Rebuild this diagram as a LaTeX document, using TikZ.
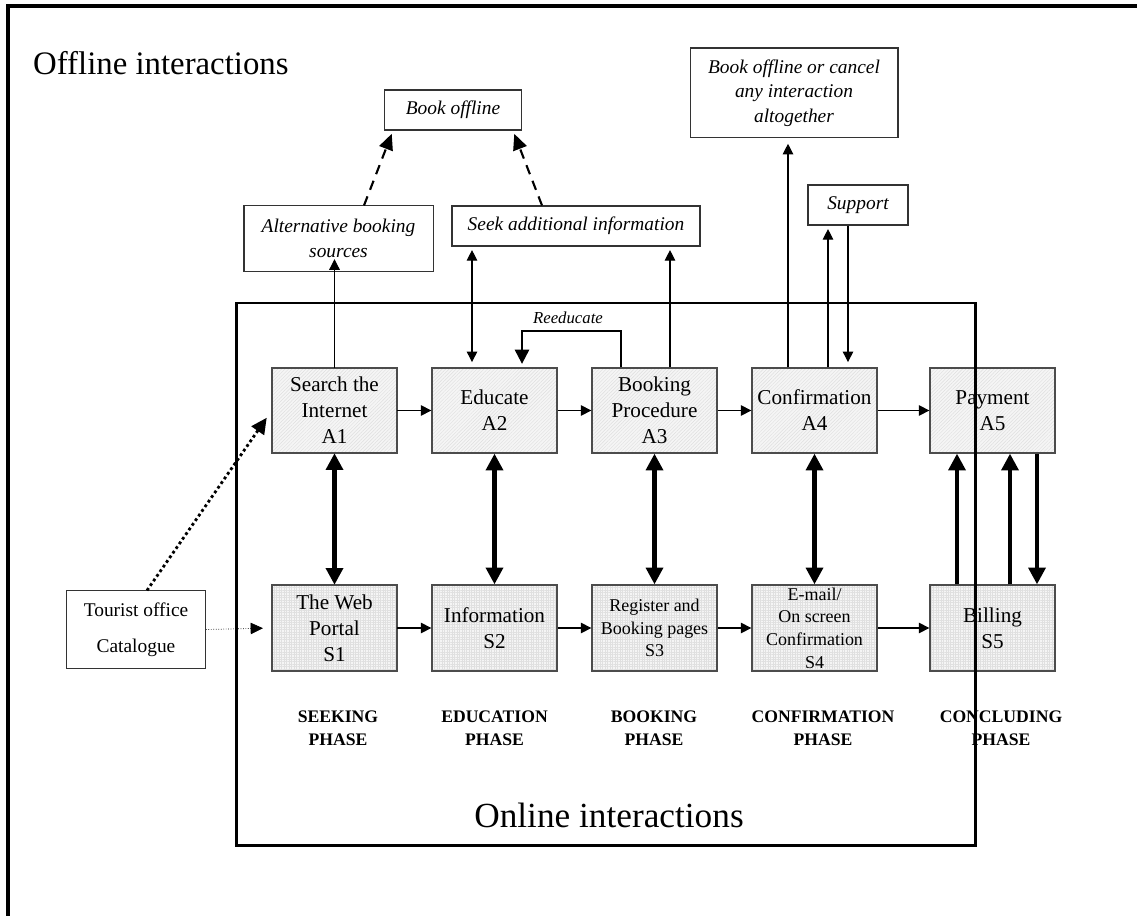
\documentclass[tikz,border=0pt]{standalone}
\usepackage{fontspec}
\setmainfont{Liberation Serif}
\usetikzlibrary{arrows.meta,patterns.meta}

\begin{document}
\begin{tikzpicture}
[x=0.567pt,y=-0.567pt]
\tikzset{
	act/.style = {draw=black!70, line width=0.7pt, minimum width=70.9pt, minimum height=48.2pt, inner sep=1pt, align=center,
		font=\fontsize{12}{14.7}\selectfont, preaction={fill=black!4},
		pattern={Lines[angle=45,distance=1.4pt,line width=0.25pt]}, pattern color=black!13},
	sys/.style = {act, minimum height=48.8pt, pattern={Hatch[distance=1.4pt,line width=0.2pt]}, pattern color=black!12},
	offl/.style = {draw=black!80, line width=0.6pt, inner sep=0pt, align=center, font=\itshape\fontsize{11}{14}\selectfont},
	phase/.style = {align=center, font=\bfseries\fontsize{10}{13}\selectfont},
	title/.style = {font=\fontsize{20}{24}\selectfont},
	link/.style = {line width=0.6pt, >={Triangle[length=6pt,width=6pt]}},
	bold/.style = {line width=2.3pt, >={Triangle[length=9.5pt,width=9.5pt]}},
	offlink/.style = {line width=1.2pt, dash pattern=on 5.5pt off 4pt, >={Triangle[length=9pt,width=8pt]}},
	hint/.style = {line width=1.6pt, dash pattern=on 1.6pt off 1.6pt, >={Triangle[length=9pt,width=8.5pt]}},
	faint/.style = {line width=0.4pt, densely dotted, >={Triangle[length=7pt,width=6.5pt]}}
}
\useasboundingbox (0,0) rectangle (1137,916);

% frame of the offline world
\draw[line width=2.3pt] (8,916) -- (8,6.3) -- (1137,6.3);
\node (offline) [title, font=\fontsize{18.6}{22}\selectfont, anchor=base west] at (27,75) {Offline interactions};

% activities
\node (a1) [act] at (334.5,410.5) {Search the\\Internet\\A1};
\node (a2) [act] at (494.5,410.5) {Educate\\A2};
\node (a3) [act] at (654.5,410.5) {Booking\\Procedure\\A3};
\node (a4) [act] at (814.5,410.5) {Confirmation\\A4};
\node (a5) [act] at (992.5,410.5) {Payment\\A5};

% web site
\node (s1) [sys] at (334.5,628) {The Web\\Portal\\S1};
\node (s2) [sys] at (494.5,628) {Information\\S2};
\node (s3) [sys, font=\fontsize{10.2}{12.8}\selectfont] at (654.5,628) {Register and\\Booking pages\\S3};
\node (s4) [sys, font=\fontsize{10.2}{12.8}\selectfont] at (814.5,628) {E-mail/\\On screen\\Confirmation\\S4};
\node (s5) [sys] at (992.5,628) {Billing\\S5};

% offline boxes
\node (bookoff) [offl, minimum width=78.2pt, minimum height=22.7pt] at (453,110) {Book offline};
\node (alt) [offl, minimum width=107.2pt, minimum height=36.9pt] at (338.5,238.5) {Alternative booking\\sources};
\node (seek) [offl, minimum width=140.6pt, minimum height=22.7pt] at (576,226) {Seek additional information};
\node (cancel) [offl, minimum width=117.9pt, minimum height=51pt] at (794,93) {Book offline or cancel\\any interaction\\altogether};
\node (support) [offl, minimum width=56.7pt, minimum height=22.7pt] at (858,205) {Support};
\node (tourist) [offl, font=\fontsize{11}{20.4}\selectfont, minimum width=78.8pt, minimum height=43.7pt] at (136,629.5) {Tourist office\\Catalogue};

\node (ph1) [phase] at (338,728.5) {SEEKING\\PHASE};
\node (ph2) [phase] at (494.5,728.5) {EDUCATION\\PHASE};
\node (ph3) [phase] at (654,728.5) {BOOKING\\PHASE};
\node (ph4) [phase] at (823,728.5) {CONFIRMATION\\PHASE};
\node (ph5) [phase] at (1001,728.5) {CONCLUDING\\PHASE};

\node (online) [title, anchor=base] at (609,827) {Online interactions};

\path[link,->]
	(a1) edge (a2)
	(a2) edge (a3)
	(a3) edge (a4)
	(a4) edge (a5)
	(s1) edge (s2)
	(s2) edge (s3)
	(s3) edge (s4)
	(s4) edge (s5)
	;

\path[bold,<->]
	(a1) edge (s1)
	(a2) edge (s2)
	(a3) edge (s3)
	(a4) edge (s4)
	;
\draw[bold,->] (957,0 |- s5.north) -- (957,0 |- a5.south);
\draw[bold,->] (1010,0 |- s5.north) -- (1010,0 |- a5.south);
\draw[bold,->] (1037,0 |- a5.south) -- (1037,0 |- s5.north);

% up to the offline side
\draw[link,->,shorten >=-7pt] (a1.north) -- (a1.north |- alt.south);
\draw[link,<->,shorten >=2pt,shorten <=3pt] (472,0 |- a2.north) -- (472,0 |- seek.south);
\draw[link,->,shorten >=2pt] (670,0 |- a3.north) -- (670,0 |- seek.south);
\draw[link,->,shorten >=3pt] (788,0 |- a4.north) -- (788,0 |- cancel.south);
\draw[link,->,shorten >=2pt] (828,0 |- a4.north) -- (828,0 |- support.south);
\draw[link,->,shorten >=3pt] (848,0 |- support.south) -- (848,0 |- a4.north);
\draw[line width=1.2pt, >={Triangle[length=8pt,width=8pt]}, ->, shorten >=2pt] (621,0 |- a3.north) -- ++(0,-36) -| (522,0 |- a2.north);
\node (reedu) [font=\itshape\fontsize{9.5}{11}\selectfont] at (568,318) {Reeducate};

\draw[offlink,->,shorten >=2pt] (364,0 |- alt.north) -- (393,0 |- bookoff.south);
\draw[offlink,->,shorten >=2pt] (542,0 |- seek.north) -- (513,0 |- bookoff.south);

\draw[hint,->,shorten >=5pt] (147,0 |- tourist.north) -- (a1.west);
\draw[faint,->,shorten >=5pt] (tourist.east) -- (s1.west);

% the online world
\draw[line width=1.7pt] (236,303) rectangle (975,845);

\end{tikzpicture}
\end{document}
